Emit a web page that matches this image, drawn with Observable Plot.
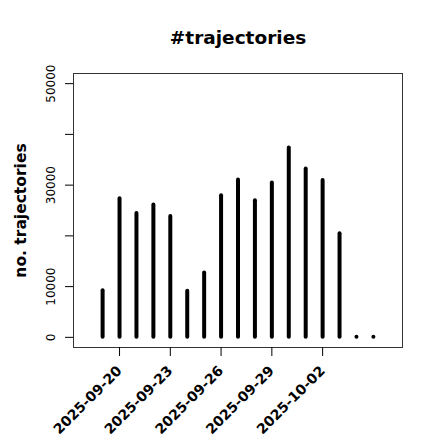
<!DOCTYPE html>
<html>
<head>
<meta charset="utf-8">
<script src="https://cdn.jsdelivr.net/npm/d3@7"></script>
<script src="https://cdn.jsdelivr.net/npm/@observablehq/plot@0.6"></script>
<style>
  html, body { margin: 0; padding: 0; background: #fff; }
</style>
</head>
<body>
<div id="chart"></div>
<script>
// ---- data ----
const dates = ["2025-09-19","2025-09-20","2025-09-21","2025-09-22","2025-09-23","2025-09-24","2025-09-25","2025-09-26","2025-09-27","2025-09-28","2025-09-29","2025-09-30","2025-10-01","2025-10-02","2025-10-03","2025-10-04","2025-10-05"];
const counts = [9200, 27300, 24400, 26100, 23800, 9100, 12700, 27900, 31000, 26900, 30400, 37300, 33200, 30900, 20400, 0, 0];
const xTickLabels = ["2025-09-20","2025-09-23","2025-09-26","2025-09-29","2025-10-02"];
const yTicks = [0, 10000, 20000, 30000, 40000, 50000];
const yTickLabels = [0, 10000, 30000, 50000];
const titleText = "#trajectories";
const yTitle = "no. trajectories";
const xLimits = ["2025-09-18", "2025-10-06"];
const yLimits = [0, 50000];

const parse = d3.utcParse("%Y-%m-%d");
const data = dates.map((d, i) => ({date: parse(d), n: counts[i]}));
const xl0 = parse(xLimits[0]), xl1 = parse(xLimits[1]);
const xpad = (xl1 - xl0) * 0.04;
const ypad = (yLimits[1] - yLimits[0]) * 0.04;

const chart = Plot.plot({
  width: 440,
  height: 440,
  marginLeft: 73,
  marginRight: 38,
  marginTop: 73,
  marginBottom: 93,
  style: {fontFamily: "DejaVu Sans", background: "#fff", color: "#000"},
  x: {type: "utc", domain: [new Date(+xl0 - xpad), new Date(+xl1 + xpad)]},
  y: {domain: [yLimits[0] - ypad, yLimits[1] + ypad]},
  marks: [
    Plot.frame({stroke: "#333", strokeWidth: 1}),
    Plot.axisY({
      ticks: yTicks,
      tickSize: 8,
      tickPadding: 11,
      tickFormat: d => yTickLabels.includes(d) ? String(d) : "",
      tickRotate: -90,
      textAnchor: "middle",
      lineAnchor: "bottom",
      fontSize: 12,
      label: null
    }),
    Plot.axisX({
      ticks: xTickLabels.map(parse),
      tickSize: 9,
      tickPadding: 12,
      tickFormat: d3.utcFormat("%Y-%m-%d"),
      tickRotate: -45,
      fontSize: 14,
      fontWeight: "bold",
      label: null
    }),
    Plot.ruleX(data, {x: "date", y1: 0, y2: "n", stroke: "#000", strokeWidth: 4, strokeLinecap: "round"}),
    Plot.text([titleText], {text: d => d, frameAnchor: "top", lineAnchor: "middle", dy: -35, fontSize: 18.5, fontWeight: "bold"}),
    Plot.text([yTitle], {text: d => d, frameAnchor: "left", textAnchor: "middle", lineAnchor: "middle", rotate: -90, dx: -52, fontSize: 15.5, fontWeight: "bold"})
  ]
});
document.getElementById("chart").appendChild(chart);
</script>
</body>
</html>
